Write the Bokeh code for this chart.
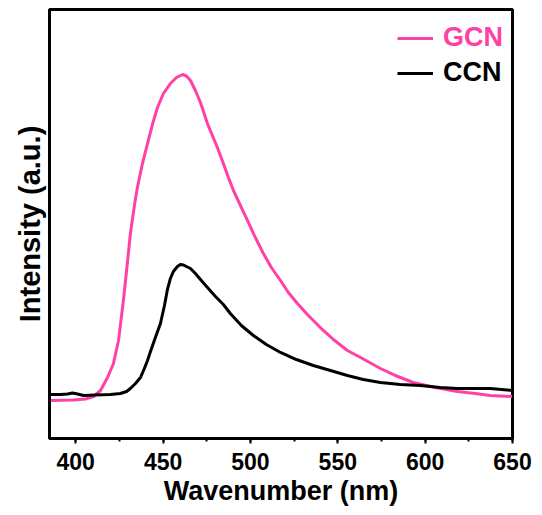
from bokeh.plotting import figure
from bokeh.models import Legend, LegendItem, SingleIntervalTicker, FixedTicker
from bokeh.embed import file_html
from bokeh.resources import INLINE

# Data (arbitrary intensity units, 0..1 axis span)
gcn_wavelength = [385.0, 398.7, 405.6, 410.2, 414.2, 418.2, 421.6, 424.5, 427.3, 429.6,
                  431.3, 433.6, 435.3, 438.2, 441.1, 443.9, 446.8, 450.2, 454.2, 457.7,
                  461.1, 463.4, 465.7, 468.5, 471.4, 475.4, 478.2, 481.1, 484.5, 487.4,
                  490.3, 494.3, 498.3, 502.8, 507.4, 512.0, 517.2, 521.7, 526.9, 532.6,
                  540.0, 547.5, 555.5, 564.1, 574.4, 582.9, 593.2, 605.8, 618.4, 628.7,
                  637.3, 649.9]
gcn_intensity = [0.0886, 0.0897, 0.0921, 0.0979, 0.1119, 0.1422, 0.1748, 0.2284, 0.3217, 0.4103,
                 0.4779, 0.5431, 0.5851, 0.6410, 0.6876, 0.7319, 0.7716, 0.8042, 0.8275, 0.8415,
                 0.8485, 0.8450, 0.8345, 0.8112, 0.7832, 0.7343, 0.7063, 0.6783, 0.6410, 0.6084,
                 0.5781, 0.5431, 0.5082, 0.4685, 0.4312, 0.3986, 0.3683, 0.3403, 0.3147, 0.2890,
                 0.2587, 0.2308, 0.2051, 0.1865, 0.1632, 0.1469, 0.1305, 0.1189, 0.1096, 0.1049,
                 0.1002, 0.0979]

ccn_wavelength = [385.0, 391.3, 395.3, 398.2, 401.0, 404.5, 411.3, 419.9, 425.6, 429.1,
                  431.3, 434.2, 437.1, 439.3, 441.1, 442.8, 445.6, 448.5, 450.8, 452.5,
                  454.2, 455.9, 458.2, 459.9, 461.7, 463.9, 465.7, 468.5, 471.4, 475.4,
                  480.0, 484.5, 488.5, 494.8, 501.7, 509.1, 517.2, 526.3, 536.0, 545.8,
                  555.5, 564.6, 574.4, 585.8, 597.2, 608.7, 618.4, 628.7, 637.3, 649.9]
ccn_intensity = [0.1026, 0.1026, 0.1037, 0.1061, 0.1037, 0.1002, 0.1014, 0.1026, 0.1049, 0.1096,
                 0.1166, 0.1282, 0.1422, 0.1632, 0.1818, 0.2028, 0.2354, 0.2681, 0.3100, 0.3473,
                 0.3730, 0.3893, 0.4009, 0.4056, 0.4044, 0.3998, 0.3963, 0.3846, 0.3706, 0.3520,
                 0.3310, 0.3124, 0.2914, 0.2634, 0.2401, 0.2191, 0.2005, 0.1841, 0.1702, 0.1585,
                 0.1469, 0.1375, 0.1305, 0.1259, 0.1235, 0.1189, 0.1166, 0.1166, 0.1166, 0.1119]

series_names = ["GCN", "CCN"]
pink = "#FF40A6"
black = "#000000"
FONT = "Liberation Sans"

p = figure(width=542, height=515, x_range=(385, 650), y_range=(0, 1),
           output_backend="svg", toolbar_location=None,
           min_border_left=49, min_border_right=30, min_border_top=9, min_border_bottom=77)

r_gcn = p.line(gcn_wavelength, gcn_intensity, line_color=pink, line_width=3, line_join="round")
r_ccn = p.line(ccn_wavelength, ccn_intensity, line_color=black, line_width=3, line_join="round")

p.grid.visible = False
p.background_fill_color = "white"
p.border_fill_color = "white"
p.outline_line_color = "black"
p.outline_line_width = 3
p.outline_line_alpha = 1

# x axis
xa = p.xaxis[0]
xa.ticker = SingleIntervalTicker(interval=50, num_minor_ticks=2)
xa.axis_line_width = 3
xa.major_tick_line_width = 2
xa.minor_tick_line_width = 2
xa.major_tick_out = 5
xa.major_tick_in = 0
xa.minor_tick_out = 3
xa.minor_tick_in = 0
xa.major_label_text_font = FONT
xa.major_label_text_font_style = "bold"
xa.major_label_text_font_size = "23px"
xa.major_label_text_color = "black"
xa.major_label_standoff = 9
xa.axis_label = "Wavenumber (nm)"
xa.axis_label_text_font = FONT
xa.axis_label_text_font_style = "bold"
xa.axis_label_text_font_size = "27px"
xa.axis_label_text_color = "black"
xa.axis_label_standoff = 3

# y axis (no ticks)
ya = p.yaxis[0]
ya.ticker = FixedTicker(ticks=[])
ya.axis_line_width = 3
ya.major_tick_line_color = None
ya.minor_tick_line_color = None
ya.major_label_text_font_size = "0px"
ya.axis_label = "Intensity (a.u.)"
ya.axis_label_text_font = FONT
ya.axis_label_text_font_style = "bold"
ya.axis_label_text_font_size = "29px"
ya.axis_label_text_color = "black"
ya.axis_label_standoff = 4

def make_legend(name, renderer, color, loc):
    lg = Legend(items=[LegendItem(label=name, renderers=[renderer])],
                location=loc, orientation="vertical",
                label_text_font=FONT, label_text_font_style="bold",
                label_text_font_size="27px", label_text_color=color,
                glyph_width=36, glyph_height=30, label_height=30,
                label_standoff=10, padding=0, margin=0, spacing=0,
                background_fill_alpha=0, border_line_alpha=0)
    return lg

p.add_layout(make_legend(series_names[0], r_gcn, pink, (348, 385)))
p.add_layout(make_legend(series_names[1], r_ccn, black, (348, 350)))

open("out.html", "w").write(file_html(p, INLINE))
